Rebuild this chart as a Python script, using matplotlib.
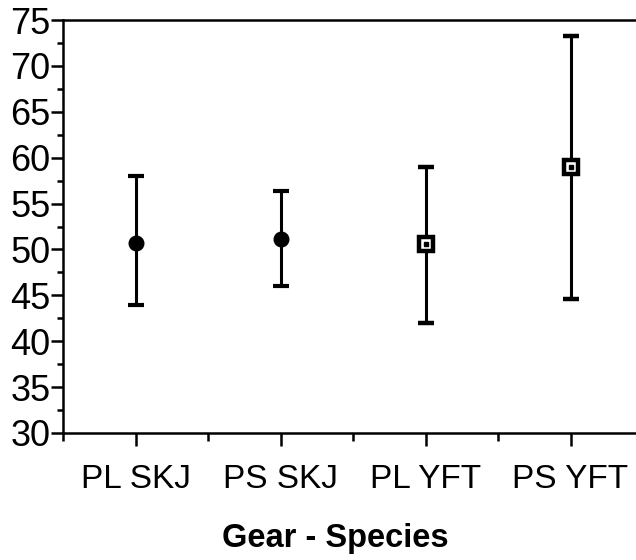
import matplotlib as mpl
mpl.use('Agg')
import matplotlib.pyplot as plt
from matplotlib.ticker import MultipleLocator, FixedLocator

plt.rcParams['font.family'] = ['Liberation Sans', 'DejaVu Sans']

# data
groups = ['PL SKJ', 'PS SKJ', 'PL YFT', 'PS YFT']
means = [50.7, 51.1, 50.6, 59.0]
upper = [58.0, 56.4, 59.0, 73.3]
lower = [43.9, 46.0, 42.0, 44.6]
filled = [True, True, False, False]

fig = plt.figure(figsize=(6.36, 5.6), dpi=100)
ax = fig.add_axes([63 / 636, 127 / 560, 580 / 636, 413 / 560])

for i, g in enumerate(groups):
    err = [[means[i] - lower[i]], [upper[i] - means[i]]]
    if filled[i]:
        ax.errorbar(i, means[i], yerr=err, fmt='o', color='black', ms=10.5,
                    elinewidth=2.2, capsize=5.5, capthick=3)
    else:
        ax.errorbar(i, means[i], yerr=err, fmt='s', color='black', ms=10,
                    mfc='white', mec='black', mew=3.2,
                    elinewidth=2.2, capsize=5.5, capthick=3)
        # small dot in the middle of the open square
        ax.plot(i, means[i], 's', color='black', ms=3, zorder=5)

ax.set_xlim(-0.5, 3.5)
ax.set_ylim(30, 75)
ax.set_xticks(range(len(groups)))
ax.set_xticklabels(groups)
ax.xaxis.set_minor_locator(FixedLocator([-0.5, 0.5, 1.5, 2.5]))
ax.yaxis.set_major_locator(MultipleLocator(5))
ax.yaxis.set_minor_locator(MultipleLocator(2.5))

for s in ax.spines.values():
    s.set_linewidth(1.8)
ax.spines['right'].set_visible(False)

ax.tick_params(axis='y', which='major', length=9, width=1.8, pad=0, labelsize=26)
ax.tick_params(axis='y', which='minor', length=4, width=1.8)
ax.tick_params(axis='x', which='major', length=9, width=1.8, pad=13, labelsize=24)
ax.tick_params(axis='x', which='minor', length=6, width=1.8)

fig.text(335 / 636, 22 / 560, 'Gear - Species', ha='center', va='center',
         fontsize=23.5, fontweight='bold')

fig.savefig('out.png', dpi=100)
